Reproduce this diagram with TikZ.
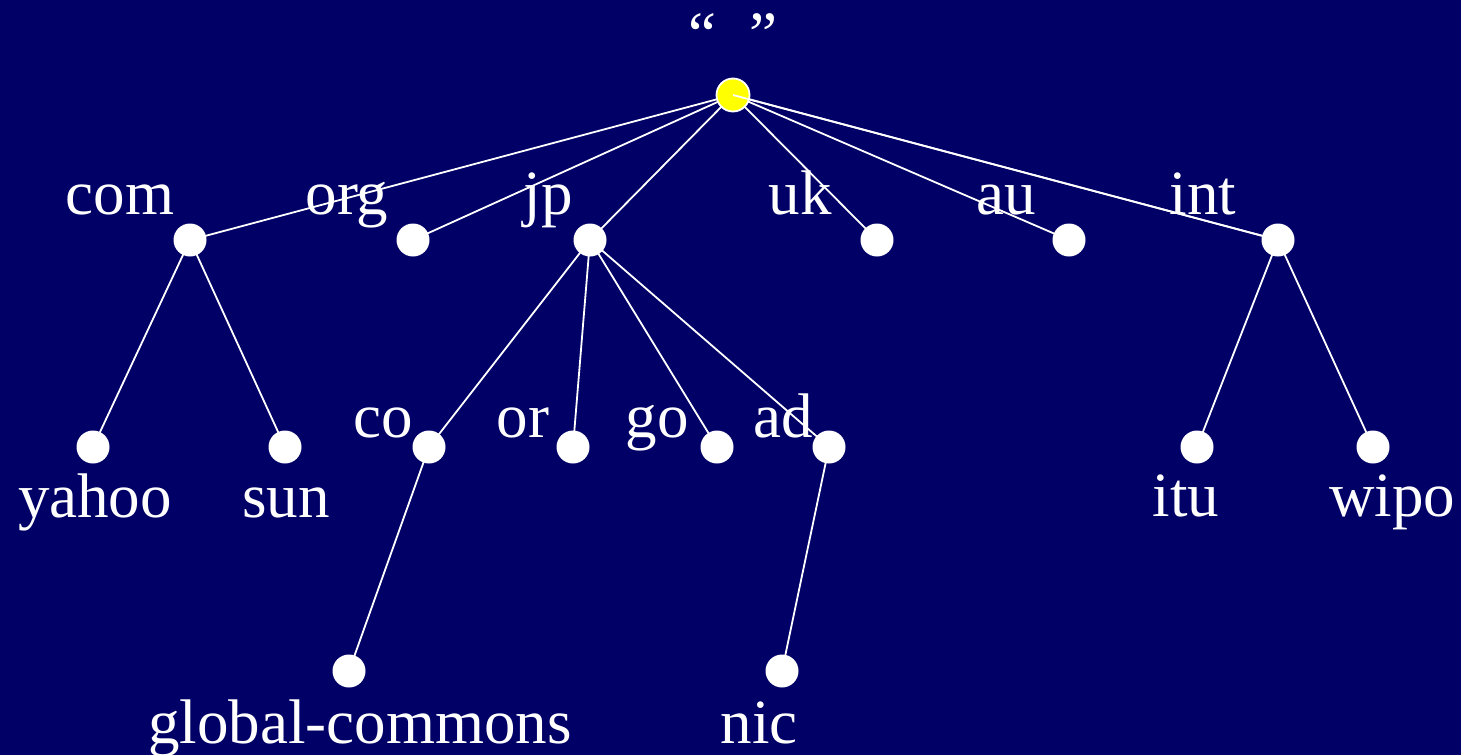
\documentclass[tikz,border=0pt]{standalone}
\usepackage{fontspec}
\setmainfont{Liberation Serif}
\usetikzlibrary{backgrounds}
\definecolor{dnsNavy}{RGB}{0,0,102}
\definecolor{dnsYellow}{RGB}{255,255,0}
\tikzset{
    dnsbase/.style={font=\fontsize{63}{70}\selectfont, text=white, inner sep=0pt},
    zonedot/.style={circle, fill=white, inner sep=0pt, minimum size=33pt},
    rootdot/.style={circle, draw=white, line width=1.8pt, fill=dnsYellow, inner sep=0pt, minimum size=33pt},
    dlabel/.style={dnsbase, anchor=base},
    link/.style={draw=white, line width=1.8pt}
}
\begin{document}
\begin{tikzpicture}[x=1pt, y=-1pt]
  \useasboundingbox (0,0) rectangle (1461,755);

  % Root
  \node[rootdot] (root) at (733,95) {};
  \node[dlabel] (rootname) at (733,55) {“\hspace{33pt}”};

  % Top level domains
  \node[zonedot] (com) at (190,240) {};
  \node[dlabel] (comname) at (120,214) {com};
  \node[zonedot] (org) at (413,240) {};
  \node[dlabel] (orgname) at (347,214) {org};
  \node[zonedot] (jp) at (590,240) {};
  \node[dlabel] (jpname) at (548,214) {jp};
  \node[zonedot] (uk) at (877,240) {};
  \node[dlabel] (ukname) at (800,214) {uk};
  \node[zonedot] (au) at (1069,240) {};
  \node[dlabel] (auname) at (1006,214) {au};
  \node[zonedot] (int) at (1278,240) {};
  \node[dlabel] (intname) at (1203,214) {int};

  % Second level
  \node[zonedot] (yahoo) at (93,447) {};
  \node[dlabel] (yahooname) at (95,517) {yahoo};
  \node[zonedot] (sun) at (285,447) {};
  \node[dlabel] (sunname) at (286,517) {sun};
  \node[zonedot] (co) at (429,447) {};
  \node[dlabel] (coname) at (383,437) {co};
  \node[zonedot] (or) at (573,447) {};
  \node[dlabel] (orname) at (523,437) {or};
  \node[zonedot] (go) at (717,447) {};
  \node[dlabel] (goname) at (657,437) {go};
  \node[zonedot] (ad) at (829,447) {};
  \node[dlabel] (adname) at (783,437) {ad};
  \node[zonedot] (itu) at (1197,447) {};
  \node[dlabel] (ituname) at (1186,516) {itu};
  \node[zonedot] (wipo) at (1373,447) {};
  \node[dlabel] (wiponame) at (1392,516) {wipo};

  % Third level
  \node[zonedot] (gcommons) at (349,671) {};
  \node[dlabel] (gcommonsname) at (360,743) {global-commons};
  \node[zonedot] (nic) at (782,671) {};
  \node[dlabel] (nicname) at (759,743) {nic};

  % Links
  \begin{scope}[on background layer]
    \fill[dnsNavy] (0,0) rectangle (1461,755);
    \foreach \child in {com,org,jp,uk,au,int}
      \draw[link] (root.center) -- (\child.center);
    \foreach \child in {yahoo,sun}
      \draw[link] (com.center) -- (\child.center);
    \foreach \child in {co,or,go,ad}
      \draw[link] (jp.center) -- (\child.center);
    \foreach \child in {itu,wipo}
      \draw[link] (int.center) -- (\child.center);
    \draw[link] (co.center) -- (gcommons.center);
    \draw[link] (ad.center) -- (nic.center);
  \end{scope}
  \draw[link] (root.center) -- (int);
\end{tikzpicture}
\end{document}
